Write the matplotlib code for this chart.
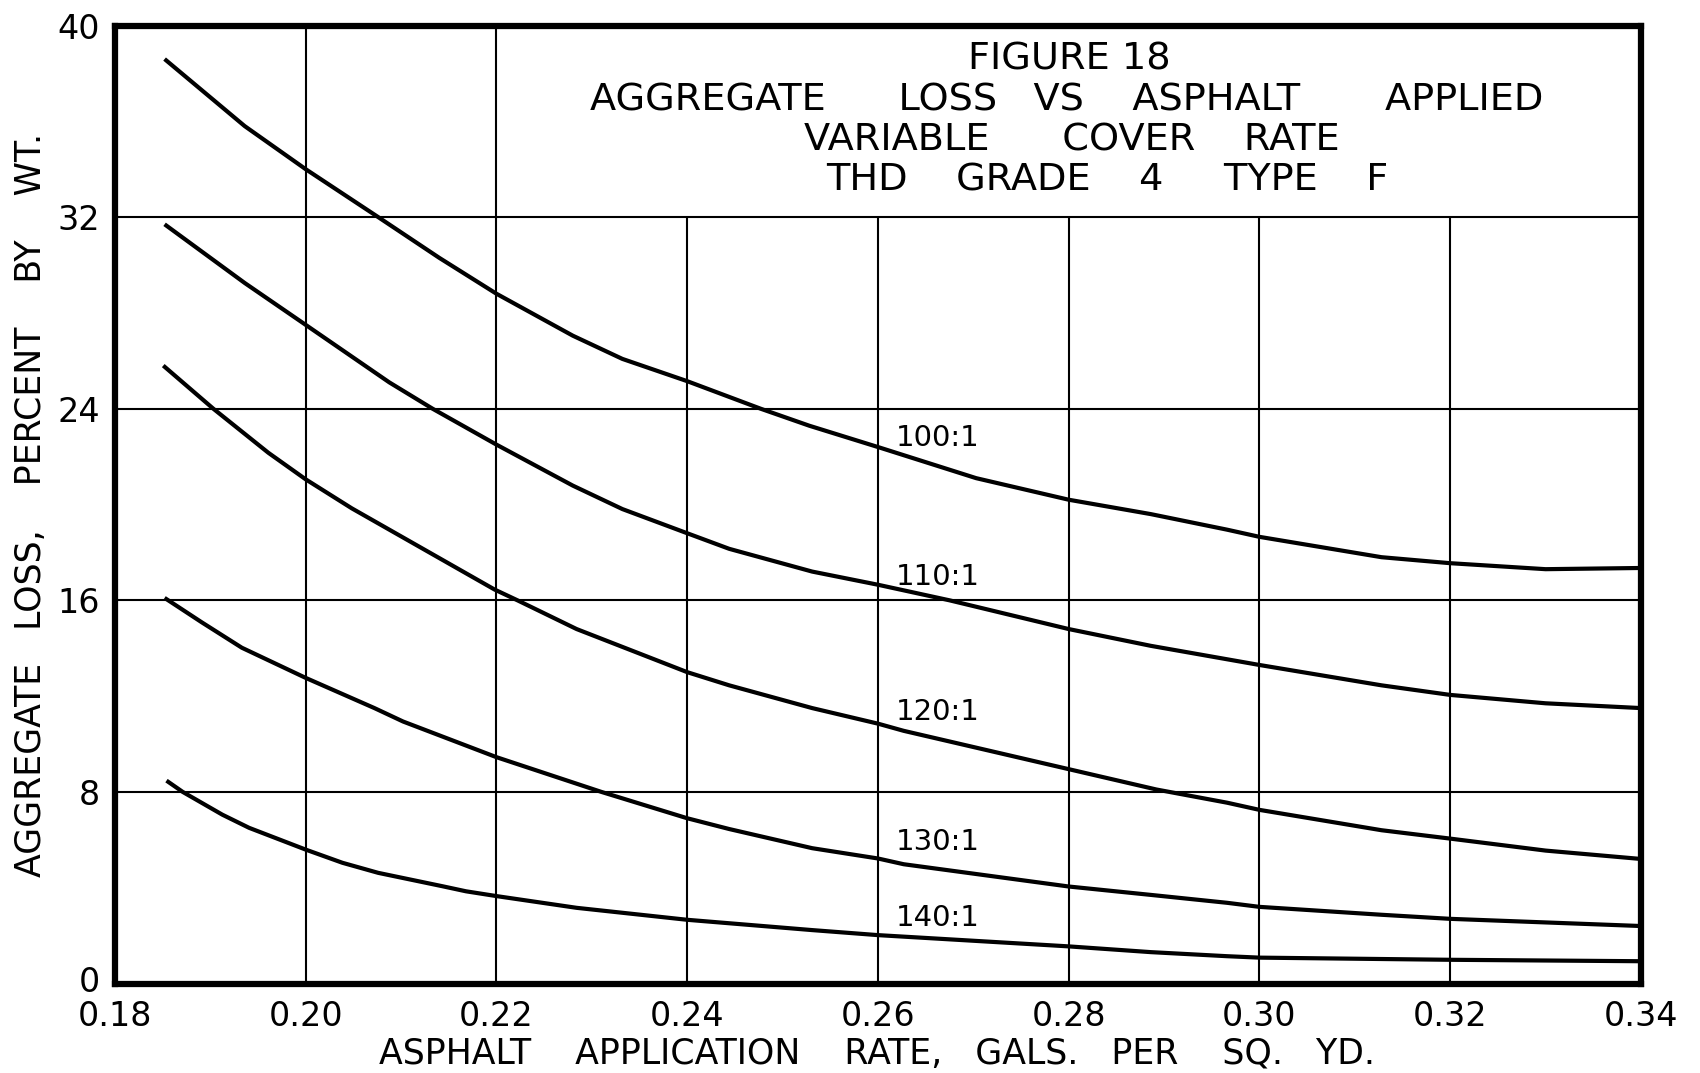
import matplotlib
matplotlib.use("Agg")
import matplotlib.pyplot as plt
from matplotlib.transforms import ScaledTranslation

# ---------------- data ----------------
x_ticks = [0.18, 0.20, 0.22, 0.24, 0.26, 0.28, 0.30, 0.32, 0.34]
x_tick_labels = ["0.18", "0.20", "0.22", "0.24", "0.26", "0.28", "0.30", "0.32", "0.34"]
y_ticks = [0, 8, 16, 24, 32, 40]
y_tick_labels = ["0", "8", "16", "24", "32", "40"]

full_vgrid = [0.20, 0.22]                    # vertical grid lines reaching the top
short_vgrid = [0.24, 0.26, 0.28, 0.30, 0.32]  # vertical grid lines stopping at 32
hgrid = [8, 16, 24, 32]
short_vgrid_top = 32

x100 = [0.1852, 0.1936, 0.200, 0.2076, 0.214, 0.220, 0.228, 0.2332, 0.240, 0.2477,
        0.2528, 0.260, 0.2703, 0.280, 0.2886, 0.2966, 0.300, 0.3128, 0.320, 0.330, 0.340]
y100 = [38.6, 35.8, 34.0, 32.0, 30.3, 28.8, 27.05, 26.08, 25.15, 24.0,
        23.29, 22.4, 21.1, 20.2, 19.6, 18.95, 18.65, 17.8, 17.55, 17.3, 17.35]

x110 = [0.1852, 0.1936, 0.200, 0.20876, 0.2133, 0.220, 0.228, 0.2332, 0.240, 0.2444,
        0.2531, 0.260, 0.2675, 0.280, 0.2886, 0.300, 0.3128, 0.320, 0.330, 0.340]
y110 = [31.7, 29.25, 27.5, 25.1, 24.0, 22.5, 20.79, 19.81, 18.8, 18.15,
        17.2, 16.65, 16.0, 14.8, 14.1, 13.3, 12.45, 12.05, 11.7, 11.5]

x120 = [0.18506, 0.19031, 0.19608, 0.200, 0.20483, 0.2198, 0.2222, 0.2284, 0.240, 0.2444,
        0.2531, 0.260, 0.2627, 0.280, 0.2892, 0.2966, 0.300, 0.3128, 0.320, 0.330, 0.340]
y120 = [25.8, 24.0, 22.16, 21.05, 19.84, 16.45, 16.0, 14.8, 13.0, 12.45,
        11.5, 10.85, 10.55, 8.95, 8.1, 7.55, 7.25, 6.4, 6.05, 5.55, 5.2]

x130 = [0.1852, 0.1891, 0.1933, 0.200, 0.2072, 0.2102, 0.220, 0.231, 0.240, 0.2444,
        0.2531, 0.260, 0.2627, 0.280, 0.2886, 0.2966, 0.300, 0.3128, 0.320, 0.330, 0.340]
y130 = [16.1, 15.08, 14.02, 12.76, 11.5, 10.94, 9.45, 8.0, 6.9, 6.45,
        5.65, 5.22, 4.98, 4.05, 3.7, 3.37, 3.2, 2.87, 2.7, 2.55, 2.4]

x140 = [0.1854, 0.1871, 0.19125, 0.19406, 0.200, 0.20385, 0.2076, 0.21435, 0.2168, 0.220,
        0.2284, 0.240, 0.2531, 0.260, 0.280, 0.2886, 0.2966, 0.300, 0.320, 0.340]
y140 = [8.47, 8.0, 7.05, 6.5, 5.59, 5.04, 4.62, 4.06, 3.85, 3.65,
        3.16, 2.66, 2.23, 2.02, 1.55, 1.31, 1.14, 1.08, 0.99, 0.93]

series_x = [x100, x110, x120, x130, x140]
series_y = [y100, y110, y120, y130, y140]
series_labels = ["100:1", "110:1", "120:1", "130:1", "140:1"]
label_x = [0.2619, 0.2619, 0.2619, 0.2619, 0.2619]
label_y = [22.43, 16.66, 11.0, 5.58, 2.42]

title_lines = [
    "FIGURE 18",
    "AGGREGATE      LOSS   VS    ASPHALT       APPLIED",
    "VARIABLE      COVER    RATE",
    "THD    GRADE    4     TYPE    F",
]
title_cx = [0.6252, 0.6238, 0.6269, 0.6504]
title_base = [0.9542, 0.9112, 0.8693, 0.8275]

xlabel_text = "ASPHALT    APPLICATION    RATE,   GALS.   PER    SQ.   YD."
ylabel_text = "AGGREGATE   LOSS,    PERCENT    BY    WT."

# ---------------- figure ----------------
plt.rcParams['font.family'] = ['DejaVu Sans']
fig = plt.figure(figsize=(17, 10.73), dpi=100)
ax = fig.add_axes([0.06765, 0.08341, 0.8976, 0.8928])
ax.set_xlim(0.18, 0.34)
ax.set_ylim(0, 40)

grid_lw = 1.5
ax.vlines(full_vgrid, 0, 40, colors='black', linewidth=grid_lw, zorder=1)
ax.vlines(short_vgrid, 0, short_vgrid_top, colors='black', linewidth=grid_lw, zorder=1)
ax.hlines(hgrid, 0.18, 0.34, colors='black', linewidth=grid_lw, zorder=1)

for xs, ys in zip(series_x, series_y):
    ax.plot(xs, ys, color='black', linewidth=3.0, solid_capstyle='butt',
            solid_joinstyle='round', zorder=3)

for lab, lx, ly in zip(series_labels, label_x, label_y):
    ax.text(lx, ly, lab, fontsize=21, ha='left', va='baseline', color='black', zorder=4)

for line, cx, by in zip(title_lines, title_cx, title_base):
    ax.text(cx, by, line, transform=ax.transAxes, fontsize=27.5, ha='center',
            va='baseline', color='black')

ax.set_xticks(x_ticks)
ax.set_xticklabels(x_tick_labels)
ax.set_yticks(y_ticks)
ax.set_yticklabels(y_tick_labels)
ax.tick_params(axis='both', length=0, labelsize=24, colors='black')
ax.tick_params(axis='x', pad=12)
ax.tick_params(axis='y', pad=11)

# nudge the "0" label on the y axis up a little so it clears "0.18"
zero_lbl = ax.get_yticklabels()[0]
zero_lbl.set_transform(zero_lbl.get_transform() +
                       ScaledTranslation(0, 3.5 / 72, fig.dpi_scale_trans))

for sp in ax.spines.values():
    sp.set_linewidth(4.5)
    sp.set_color('black')
    sp.set_zorder(5)

fig.text(0.516, 0.0084, xlabel_text, fontsize=25, ha='center', va='baseline')
fig.text(0.0242, 0.5294, ylabel_text, fontsize=25, ha='center', va='baseline',
         rotation=90, rotation_mode='anchor')

fig.savefig("out.png", dpi=100, facecolor='white')
